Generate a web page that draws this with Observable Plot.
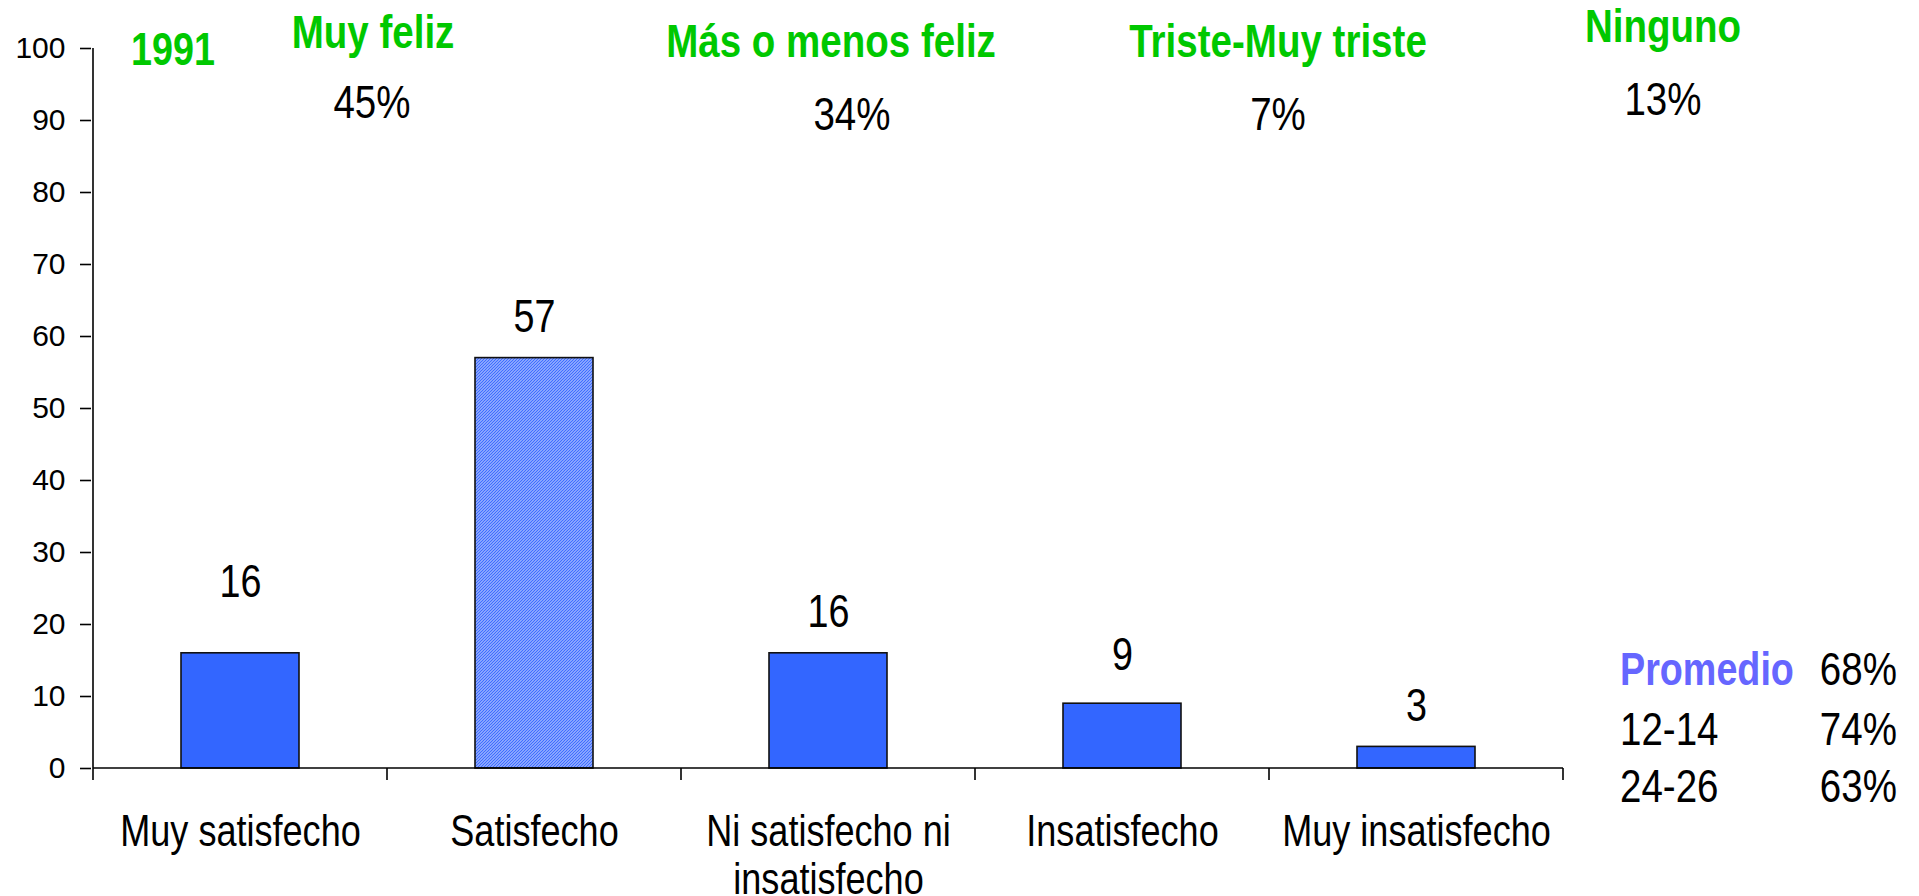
<!DOCTYPE html>
<html>
<head>
<meta charset="utf-8">
<script src="https://cdn.jsdelivr.net/npm/d3@7"></script>
<script src="https://cdn.jsdelivr.net/npm/@observablehq/plot@0.6"></script>
<style>
  html, body { margin: 0; padding: 0; background: #fff; }
  #chart { position: relative; width: 1919px; height: 896px; overflow: hidden; }
</style>
</head>
<body>
<div id="chart"></div>
<script>
// ---- data ----
const categories = ["Muy satisfecho", "Satisfecho", "Ni satisfecho ni insatisfecho", "Insatisfecho", "Muy insatisfecho"];
const values = [16, 57, 16, 9, 3];
const highlight = "Satisfecho";
const yTicks = [0, 10, 20, 30, 40, 50, 60, 70, 80, 90, 100];
const yearLabel = "1991";
const happyLabels = ["Muy feliz", "Más o menos feliz", "Triste-Muy triste", "Ninguno"];
const happyPct = [45, 34, 7, 13];
const groupLabels = ["Promedio", "12-14", "24-26"];
const groupPct = [68, 74, 63];

// ---- fonts ----
function hasFont(name) {
  const c = document.createElement("canvas").getContext("2d");
  const s = "abcdefghijklmnopqrstuvwxyzMWQ0123456789";
  c.font = "40px monospace";
  const a = c.measureText(s).width;
  c.font = `40px '${name}', monospace`;
  const b = c.measureText(s).width;
  return Math.abs(a - b) > 0.5;
}
const BASE = "'Liberation Sans', Arial, Helvetica, sans-serif";
const narrowName = hasFont("Liberation Sans Narrow") ? "Liberation Sans Narrow" : (hasFont("Arial Narrow") ? "Arial Narrow" : null);
const NARROW = narrowName ? `'${narrowName}', ${BASE}` : BASE;
const SQUEEZE = narrowName ? "" : " scale(0.82,1)";

const GREEN = "#00C800";
const BLUE = "#3366FF";
const PURPLE = "#6666FF";

const data = categories.map((c, i) => ({cat: c, value: values[i]}));
const wrap = d => d === "Ni satisfecho ni insatisfecho" ? "Ni satisfecho ni\ninsatisfecho" : d;

// axis lines + category boundary ticks, derived from the scales
function axisFrame(index, scales) {
  const {x, y} = scales;
  const bw = x.bandwidth();
  const step = x(categories[1]) - x(categories[0]);
  const off = (step - bw) / 2;
  const bounds = categories.map(c => x(c) - off).concat([x(categories[categories.length - 1]) + bw + off]);
  const y0 = y(0), yTop = y(100);
  const g = d3.create("svg:g").attr("stroke", "black").attr("stroke-width", 1.6).attr("fill", "none");
  g.append("line").attr("x1", bounds[0]).attr("x2", bounds[0]).attr("y1", y0).attr("y2", yTop);
  g.append("line").attr("x1", bounds[0]).attr("x2", bounds[bounds.length - 1]).attr("y1", y0).attr("y2", y0);
  g.selectAll("line.t").data(bounds).join("line").attr("class", "t")
    .attr("x1", d => d).attr("x2", d => d).attr("y1", y0).attr("y2", y0 + 12);
  return g.node();
}

const labelStyle = {x: "cat", y: "value", text: d => String(d.value), lineAnchor: "bottom",
  fontSize: 46, fill: "black"};

const plot = Plot.plot({
  width: 1919,
  height: 896,
  marginLeft: 91,
  marginRight: 354,
  marginTop: 48,
  marginBottom: 128,
  style: {fontFamily: BASE, background: "white", color: "black", overflow: "visible"},
  x: {domain: categories, paddingInner: 0.6, paddingOuter: 0.3, label: null},
  y: {domain: [0, 100], label: null},
  marks: [
    Plot.barY(data.filter(d => d.cat !== highlight), {x: "cat", y: "value", fill: BLUE, stroke: "#111", strokeWidth: 1.6}),
    Plot.barY(data.filter(d => d.cat === highlight), {x: "cat", y: "value", fill: "url(#hatch)", stroke: "#111", strokeWidth: 1.6}),
    axisFrame,
    Plot.axisY({ticks: yTicks, tickSize: 11, tickPadding: 15, fontSize: 30, strokeWidth: 1.6, label: null}),
    Plot.axisX({tickSize: 0, tickPadding: 43, fontSize: 44, lineHeight: 1.1, tickFormat: wrap, label: null}),
    Plot.text(data.filter(d => d.cat === "Muy satisfecho"), {...labelStyle, dy: -56}),
    Plot.text(data.filter(d => d.cat === "Insatisfecho"), {...labelStyle, dy: -34}),
    Plot.text(data.filter(d => d.cat !== "Muy satisfecho" && d.cat !== "Insatisfecho"), {...labelStyle, dy: -26})
  ]
});

const svg = d3.select(plot);
// hatch pattern for the highlighted bar
const defs = svg.insert("defs", ":first-child");
const pat = defs.append("pattern").attr("id", "hatch").attr("patternUnits", "userSpaceOnUse")
  .attr("width", 3).attr("height", 3);
pat.append("rect").attr("width", 3).attr("height", 3).attr("fill", "#c4d2ff");
pat.append("path").attr("d", "M-1,1 l2,-2 M0,3 l3,-3 M2,4 l2,-2")
  .attr("stroke", "#3f6dff").attr("stroke-width", 1.3);

// narrow face for every text except the y-axis tick labels
const narrowSel = svg.selectAll("text").filter(function () {
  const g = this.closest("g[aria-label]");
  return !(g && g.getAttribute("aria-label") === "y-axis tick label");
});
narrowSel.attr("font-family", NARROW).style("font-family", NARROW);
if (SQUEEZE) {
  narrowSel.each(function () {
    const t = this.getAttribute("transform") || "";
    this.setAttribute("transform", t + SQUEEZE);
  });
}

// ---- annotations (layout) ----
const ann = svg.append("g").attr("font-family", NARROW);
function put(text, x, y, opts) {
  ann.append("text")
    .attr("transform", `translate(${x},${y})${SQUEEZE}`)
    .attr("text-anchor", opts.anchor || "middle")
    .attr("font-size", opts.size || 46)
    .attr("font-weight", opts.bold ? "bold" : "normal")
    .attr("fill", opts.color || "black")
    .text(text);
}
const headPos = [[373, 48], [831, 57], [1278, 57], [1663, 42]];
const pctPos = [[372, 118], [852, 130], [1278, 130], [1663, 115]];
put(yearLabel, 173, 65, {bold: true, color: GREEN});
happyLabels.forEach((t, i) => put(t, headPos[i][0], headPos[i][1], {bold: true, color: GREEN, size: 47}));
happyPct.forEach((v, i) => put(v + "%", pctPos[i][0], pctPos[i][1], {size: 47}));
const rowBase = [685, 745, 802];
groupLabels.forEach((t, i) => put(t, 1620, rowBase[i], {anchor: "start", bold: i === 0, color: i === 0 ? PURPLE : "black", size: i === 0 ? 46 : 47}));
groupPct.forEach((v, i) => put(v + "%", 1897, rowBase[i], {anchor: "end", size: 47}));

document.getElementById("chart").appendChild(plot);
</script>
</body>
</html>
